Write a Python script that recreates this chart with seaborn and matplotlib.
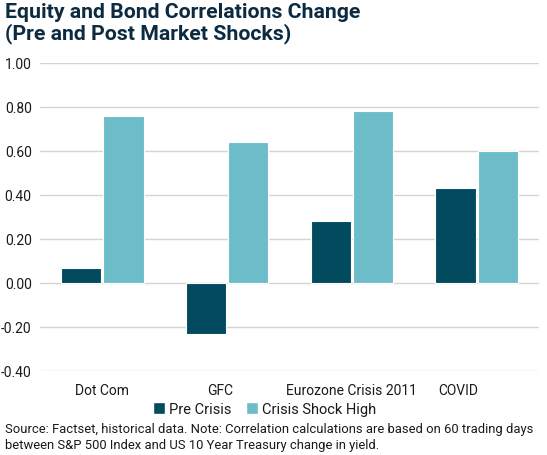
import matplotlib
matplotlib.use('Agg')
import matplotlib.pyplot as plt
import matplotlib.transforms as mtransforms
from matplotlib.patches import Patch
import seaborn as sns
import pandas as pd

# Data
categories = ['Dot Com', 'GFC', 'Eurozone Crisis 2011', 'COVID']
pre_crisis = [0.07, -0.23, 0.28, 0.43]
shock_high = [0.76, 0.64, 0.78, 0.60]
series_names = ['Pre Crisis', 'Crisis Shock High']
y_ticks = [-0.40, -0.20, 0.00, 0.20, 0.40, 0.60, 0.80, 1.00]

dark = '#024a5e'
light = '#6cbdc8'
text_col = '#1a1a1a'
title_col = '#0d2b40'

df = pd.DataFrame({
    'category': categories * 2,
    'series': [series_names[0]] * 4 + [series_names[1]] * 4,
    'value': pre_crisis + shock_high,
})

sns.set_theme(style='white')
plt.rcParams['font.family'] = ['Roboto', 'DejaVu Sans']

W, H = 547, 456
fig = plt.figure(figsize=(W / 100, H / 100), dpi=100)
ax = fig.add_axes([40 / W, 1 - 372 / H, 499 / W, 308 / H])

sns.barplot(data=df, x='category', y='value', hue='series',
            palette=[dark, light], saturation=1, width=0.68, gap=0.05,
            edgecolor='white', linewidth=0.8, ax=ax, legend=False)

ax.set_ylim(-0.40, 1.00)
ax.set_yticks(y_ticks)
ax.set_yticklabels([f'{t:.2f}' for t in y_ticks])
ax.yaxis.grid(True, color='#d4d4d4', linewidth=1.0)
ax.set_axisbelow(True)
for s in ax.spines.values():
    s.set_visible(False)
ax.set_xlabel('')
ax.set_ylabel('')
ax.tick_params(axis='y', length=0, pad=6, labelsize=10, labelcolor=text_col)
ax.tick_params(axis='x', length=0, pad=9, labelsize=10, labelcolor=text_col)

# Excel-style label placement nudges
shifts = [0, -7, 0, -18]
for lab, dx in zip(ax.get_xticklabels(), shifts):
    off = mtransforms.ScaledTranslation(dx / 100, 0, fig.dpi_scale_trans)
    lab.set_transform(lab.get_transform() + off)

handles = [Patch(facecolor=dark, label=series_names[0]),
           Patch(facecolor=light, label=series_names[1])]
fig.legend(handles=handles, loc='center', bbox_to_anchor=(265 / W, 1 - 410 / H),
           ncol=2, frameon=False, fontsize=10.5, handlelength=0.8, handleheight=0.8,
           handletextpad=0.3, columnspacing=1.0, labelcolor=text_col)

fig.text(5 / W, 1 - 3 / H, 'Equity and Bond Correlations Change\n(Pre and Post Market Shocks)',
         ha='left', va='top', fontsize=15.3, fontweight='bold', color=title_col,
         linespacing=1.1)
fig.text(5 / W, 1 - 438 / H,
         'Source: Factset, historical data. Note: Correlation calculations are based on 60 trading days\n'
         'between S&P 500 Index and US 10 Year Treasury change in yield.',
         ha='left', va='center', fontsize=9.4, color=text_col, linespacing=1.3)

fig.savefig('out.png', dpi=100)
